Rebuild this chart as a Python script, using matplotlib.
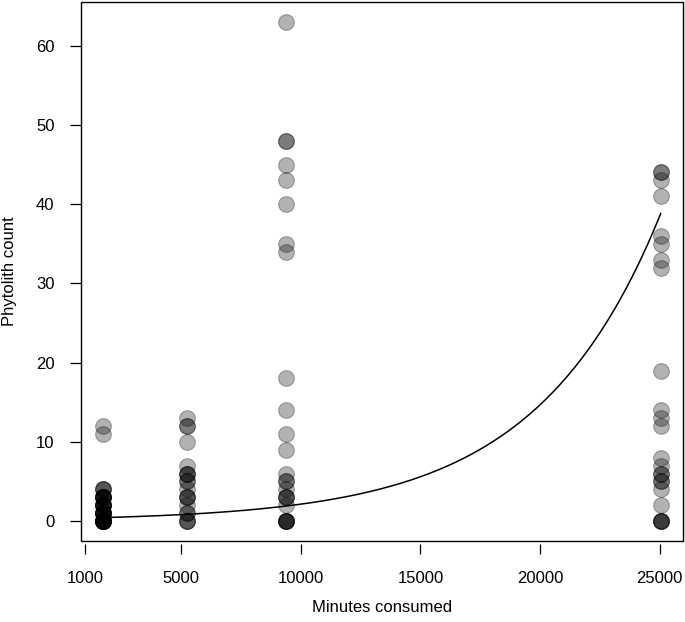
import numpy as np
import matplotlib
matplotlib.use("Agg")
import matplotlib.pyplot as plt
from matplotlib.patches import Rectangle

plt.rcParams['font.family'] = ['Liberation Sans', 'DejaVu Sans']

# Data: minutes consumed (grouped) and phytolith counts
counts_1 = [12, 11, 4, 4, 4, 3, 3, 3, 3, 3, 3, 2, 2, 2, 2, 2, 2, 1, 1, 1, 1, 1, 1, 1,
            0, 0, 0, 0, 0, 0, 0, 0, 0, 0, 0, 0]
minutes_1 = [1750] * len(counts_1)

counts_2 = [13, 12, 12, 10, 7, 6, 6, 6, 5, 5, 4, 3, 3, 3, 2, 1, 1, 0, 0, 0]
minutes_2 = [5260] * len(counts_2)

counts_3 = [63, 48, 48, 45, 43, 40, 35, 34, 18, 14, 11, 9, 6, 5, 5, 4, 3, 3, 3,
            2, 0, 0, 0, 0, 0]
minutes_3 = [9380] * len(counts_3)

counts_4 = [44, 44, 43, 41, 36, 35, 33, 32, 19, 14, 13, 12, 8, 7, 6, 6, 5, 5, 4,
            2, 0, 0, 0, 0]
minutes_4 = [25040] * len(counts_4)

minutes = np.array(minutes_1 + minutes_2 + minutes_3 + minutes_4)
counts = np.array(counts_1 + counts_2 + counts_3 + counts_4)

# fitted exponential model (log link)
b0 = -1.174
b1 = 1.93e-4

x_ticks = [1000, 5000, 10000, 15000, 20000, 25000]
y_ticks = [0, 10, 20, 30, 40, 50, 60]

fig = plt.figure(figsize=(6.85, 6.22), dpi=100)
ax = fig.add_axes([81 / 685, (622 - 541) / 622, 602 / 685, 539 / 622])

ax.scatter(minutes, counts, s=128, facecolor=(0, 0, 0, 0.3),
           edgecolor=(0, 0, 0, 0.3), linewidth=0.8, zorder=2)

xs = np.linspace(minutes.min(), minutes.max(), 300)
ax.plot(xs, np.exp(b0 + b1 * xs), color='black', lw=1.1, zorder=3)

# R style default limits (4% extension)
xr = minutes.max() - minutes.min()
yr = counts.max() - counts.min()
ax.set_xlim(minutes.min() - 0.04 * xr, minutes.max() + 0.04 * xr)
ax.set_ylim(counts.min() - 0.04 * yr, counts.max() + 0.04 * yr)

ax.set_xticks(x_ticks)
ax.set_yticks(y_ticks)
ax.tick_params(axis='x', length=7, width=0.9, pad=12, labelsize=12)
ax.tick_params(axis='y', length=8, width=0.9, pad=11, labelsize=12)

# box + detached x axis ticks
for s in ['top', 'right', 'left', 'bottom']:
    ax.spines[s].set_visible(False)
ax.spines['bottom'].set_visible(True)
ax.spines['bottom'].set_position(('outward', 2.5))
ax.spines['bottom'].set_color('none')
ax.add_patch(Rectangle((0, 0), 1, 1, transform=ax.transAxes, fill=False,
                       edgecolor='black', lw=1.0, clip_on=False, zorder=5))

ax.set_xlabel("Minutes consumed", fontsize=12)
ax.xaxis.set_label_coords(0.5, (541 - 608) / 539)
ax.xaxis.label.set_verticalalignment('center')
ax.set_ylabel("Phytolith count", fontsize=12)
ax.yaxis.set_label_coords((10 - 81) / 602, 0.5)
ax.yaxis.label.set_verticalalignment('center')

fig.savefig("out.png", dpi=100)
